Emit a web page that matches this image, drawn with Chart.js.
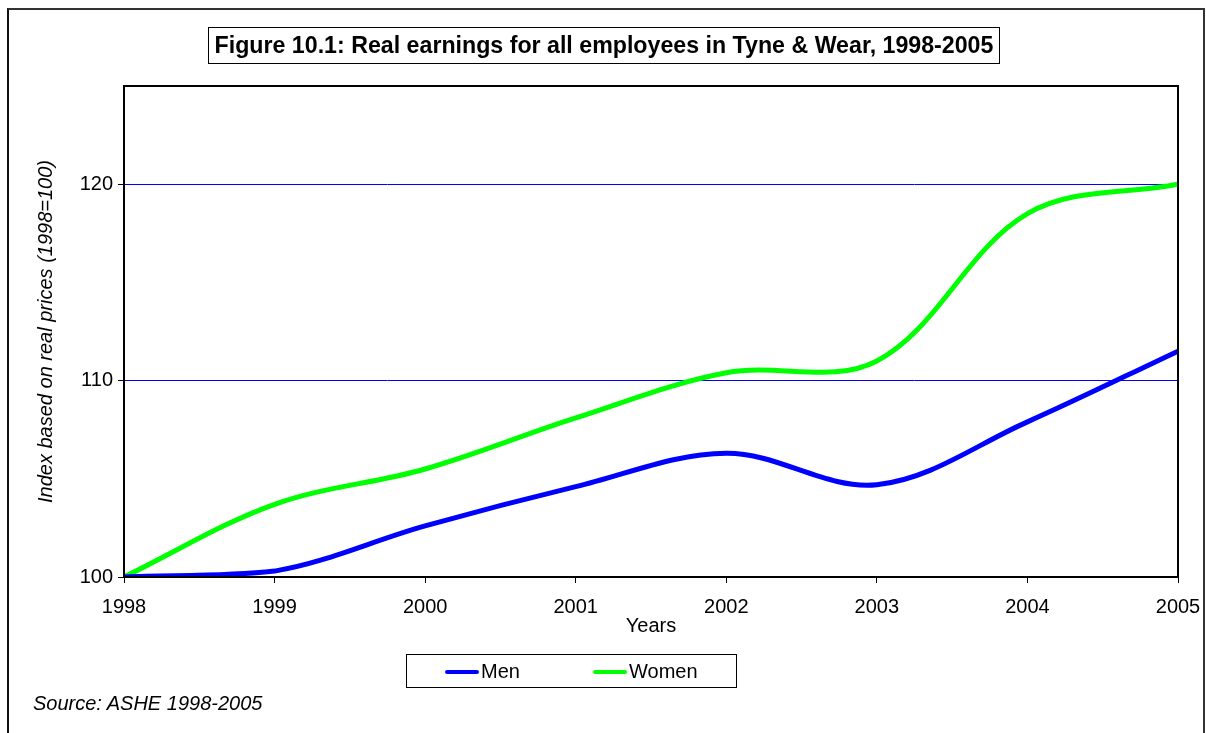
<!DOCTYPE html>
<html>
<head>
<meta charset="utf-8">
<script src="https://cdn.jsdelivr.net/npm/chart.js@4.4.1/dist/chart.umd.min.js"></script>
<style>
  body { margin: 0; background: #fff; font-family: "Liberation Sans", Arial, sans-serif; }
  #wrap { position: relative; width: 1206px; height: 733px; overflow: hidden; }
  #frame { position: absolute; left: 7px; top: 8px; width: 1194px; height: 760px;
           border-top: 2px solid #333; border-left: 2px solid #111; border-right: 2px solid #333; }
  #title { position: absolute; left: 208px; top: 27px; width: 790px; height: 35px;
           border: 1px solid #000; font-weight: bold; font-size: 23.2px; line-height: 35px;
           text-align: center; white-space: nowrap; }
  #legend { position: absolute; left: 406px; top: 654px; width: 329px; height: 32px;
            border: 1px solid #000; font-size: 20px; }
  .item { position: absolute; top: 5px; line-height: 22px; }
  .item span { display: inline-block; width: 34px; height: 4px; border-radius: 2px;
               vertical-align: middle; margin-right: 2px; position: relative; top: -1px; }
  #source { position: absolute; left: 33px; top: 692px; font-size: 20px; font-style: italic; }
  canvas { position: absolute; left: 0; top: 0; }
</style>
</head>
<body>
<div id="wrap">
  <div id="frame"></div>
  <canvas id="chart" width="1206" height="733"></canvas>
  <div id="title">Figure 10.1: Real earnings for all employees in Tyne &amp; Wear, 1998-2005</div>
  <div id="legend">
    <div class="item" style="left:38px"><span style="background:#0000ff"></span>Men</div>
    <div class="item" style="left:186px"><span style="background:#00ff00"></span>Women</div>
  </div>
  <div id="source">Source: ASHE 1998-2005</div>
</div>
<script>
const years = ["1998", "1999", "2000", "2001", "2002", "2003", "2004", "2005"];
const men = [100, 100.3, 102.6, 104.6, 106.3, 104.7, 107.9, 111.5];
const women = [100, 103.7, 105.5, 108.1, 110.4, 111.0, 118.5, 120.0];
const yTicks = [100, 110, 120];

// box around the plot area
const plotBorder = {
  id: "plotBorder",
  afterDatasetsDraw(chart) {
    const { ctx, chartArea: a } = chart;
    ctx.save();
    ctx.strokeStyle = "#000";
    ctx.lineWidth = 2;
    ctx.strokeRect(a.left, a.top, a.right - a.left, a.bottom - a.top);
    ctx.restore();
  },
};

const axisFont = { family: "Liberation Sans", size: 20 };

new Chart(document.getElementById("chart"), {
  type: "line",
  data: {
    labels: years,
    datasets: [
      { label: "Men", data: men, borderColor: "#0000ff", borderWidth: 5, tension: 0.35, pointRadius: 0, fill: false },
      { label: "Women", data: women, borderColor: "#00ff00", borderWidth: 5, tension: 0.35, pointRadius: 0, fill: false },
    ],
  },
  options: {
    responsive: false,
    animation: false,
    layout: { padding: { left: 8, top: 86, right: 28, bottom: 93 } },
    plugins: { legend: { display: false }, tooltip: { enabled: false } },
    scales: {
      x: {
        offset: false,
        grid: { drawOnChartArea: false, tickLength: 6, tickColor: "#000" },
        border: { display: false },
        ticks: { color: "#000", font: axisFont, padding: 12, maxRotation: 0, autoSkip: false },
        title: { display: true, text: "Years", color: "#000", font: axisFont, padding: { top: 0, bottom: 2 } },
        afterFit(scale) {
          scale.height = 63;
          scale.paddingLeft = 0;
          scale.paddingRight = 0;
        },
      },
      y: {
        min: 100,
        max: 125,
        afterBuildTicks(scale) { scale.ticks = yTicks.map(v => ({ value: v })); },
        grid: { color: "#0000ff", lineWidth: 1, tickLength: 6, tickColor: "#000" },
        border: { display: false },
        ticks: { color: "#000", font: axisFont, padding: 5 },
        title: { display: true, text: "Index based on real prices (1998=100)", color: "#000",
                 font: { family: "Liberation Sans", size: 20, style: "italic" }, padding: { top: 26, bottom: 0 } },
        afterFit(scale) { scale.width = 116; },
      },
    },
  },
  plugins: [plotBorder],
});
</script>
</body>
</html>
